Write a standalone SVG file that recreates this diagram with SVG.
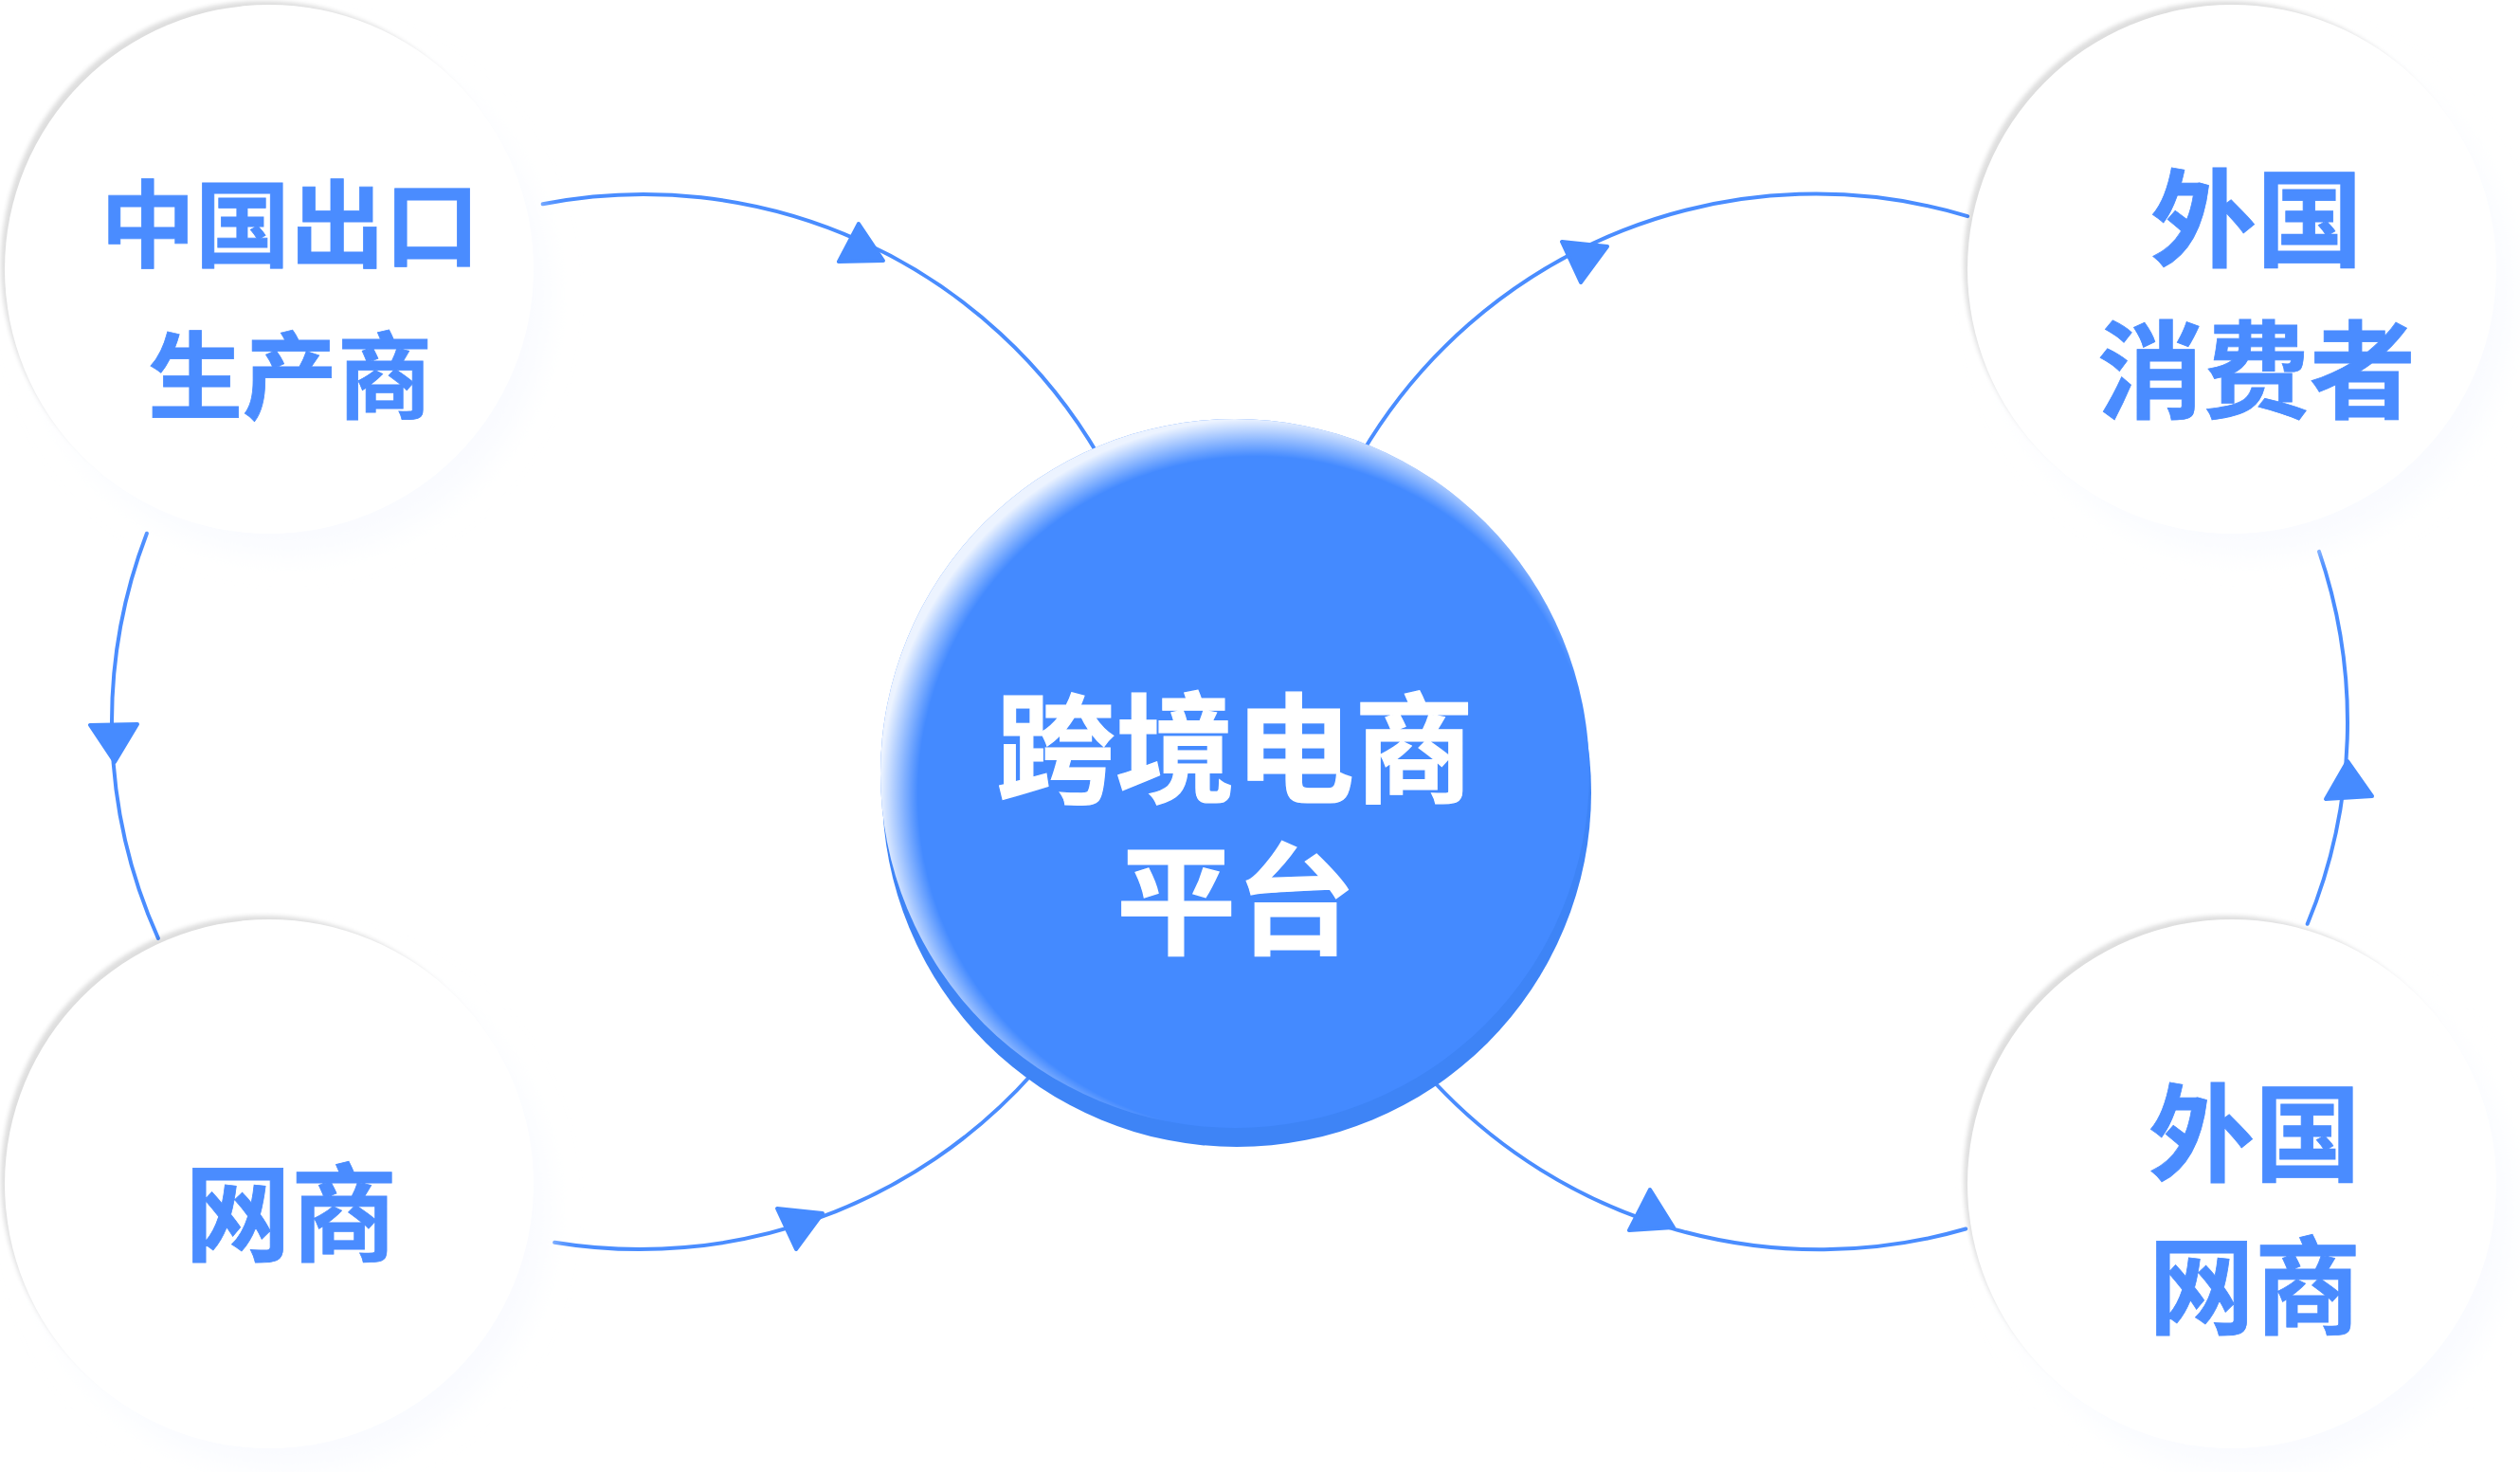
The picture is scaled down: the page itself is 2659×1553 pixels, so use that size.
<svg xmlns="http://www.w3.org/2000/svg" width="2659" height="1553" viewBox="0 0 2659 1553">
<style>
.nodeText{font-family:"Noto Sans CJK SC","Noto Sans CJK JP",sans-serif;font-weight:700;fill:#4A8CFF;stroke:#4A8CFF;stroke-width:0.8;text-anchor:middle}
.centerText{font-family:"Noto Sans CJK SC","Noto Sans CJK JP",sans-serif;font-weight:700;fill:#FFFFFF;stroke:#FFFFFF;stroke-width:1.2;text-anchor:middle;font-size:126px}
.conn{fill:none;stroke:#4A8DFF;stroke-width:4;stroke-linecap:round}
.arrow{fill:#468BFF;stroke:#468BFF;stroke-width:4;stroke-linejoin:round}
.shadow{fill:#000;fill-opacity:0.13;filter:url(#fShadow)}
.glow{fill:#F9FBFF;filter:url(#fGlow)}
.disc{fill:#FFFFFF}
</style>
<defs>
<filter id="fShadow" x="-10%" y="-10%" width="120%" height="120%"><feGaussianBlur stdDeviation="2"/></filter>
<filter id="fGlow" x="-20%" y="-20%" width="140%" height="140%"><feGaussianBlur stdDeviation="16"/></filter>
<radialGradient id="gRim" cx="0.53" cy="0.53" r="0.53">
<stop offset="0.9" stop-color="#FFFFFF" stop-opacity="0"/>
<stop offset="1" stop-color="#FFFFFF" stop-opacity="0.9"/>
</radialGradient>
</defs>
<rect width="2659" height="1553" fill="#FFFFFF"/>

<g id="connectors">
<path class="conn" d="M 572.7 215.3 A 556 556 0 0 1 1160 482"/>
<path class="conn" d="M 154.9 562.7 A 556 556 0 0 0 166.9 989.9"/>
<path class="conn" d="M 585.1 1310.8 A 556 556 0 0 0 1090 1132"/>
<path class="conn" d="M 1436 480 A 556 556 0 0 1 2076.1 228.1"/>
<path class="conn" d="M 2434.7 974.8 A 556 556 0 0 0 2447 581.9"/>
<path class="conn" d="M 1510 1138 A 556 556 0 0 0 2074.2 1296.5"/>
<polygon class="arrow" points="906,236 885,276 932,275"/>
<polygon class="arrow" points="95,765 145,764 121,804"/>
<polygon class="arrow" points="1648,255 1696,260 1668,298"/>
<polygon class="arrow" points="2477,803 2454,843 2503,840"/>
<polygon class="arrow" points="1741,1255 1719,1298 1766,1295"/>
<polygon class="arrow" points="820,1275 868,1280 840,1318"/>
</g>

<g id="node-cn-producer">
<circle class="shadow" cx="278" cy="278" r="277"/>
<circle class="glow" cx="304" cy="310" r="274"/>
<circle class="disc" cx="284" cy="284" r="279"/>
<text class="nodeText" font-size="100"><tspan x="306" y="274">中国出口</tspan><tspan x="306" y="434">生产商</tspan></text>
</g>

<g id="node-foreign-consumer">
<circle class="shadow" cx="2349" cy="278" r="277"/>
<circle class="glow" cx="2375" cy="310" r="274"/>
<circle class="disc" cx="2355" cy="284" r="279"/>
<text class="nodeText" font-size="112"><tspan x="2381" y="273">外国</tspan><tspan x="2381" y="433">消费者</tspan></text>
</g>

<g id="node-online-merchant">
<circle class="shadow" cx="278" cy="1243" r="277"/>
<circle class="glow" cx="304" cy="1275" r="274"/>
<circle class="disc" cx="284" cy="1249" r="279"/>
<text class="nodeText" font-size="112" x="307" y="1322">网商</text>
</g>

<g id="node-foreign-merchant">
<circle class="shadow" cx="2349" cy="1243" r="277"/>
<circle class="glow" cx="2375" cy="1275" r="274"/>
<circle class="disc" cx="2355" cy="1249" r="279"/>
<text class="nodeText" font-size="112"><tspan x="2379" y="1238">外国</tspan><tspan x="2379" y="1399">网商</tspan></text>
</g>

<g id="node-platform">
<circle cx="1305" cy="836" r="374" fill="#3E84F6"/>
<circle cx="1303" cy="816" r="374" fill="#448AFF"/>
<circle cx="1303" cy="816" r="374" fill="url(#gRim)"/>
<text class="centerText"><tspan x="1303" y="837">跨境电商</tspan><tspan x="1304" y="997">平台</tspan></text>
</g>
</svg>
